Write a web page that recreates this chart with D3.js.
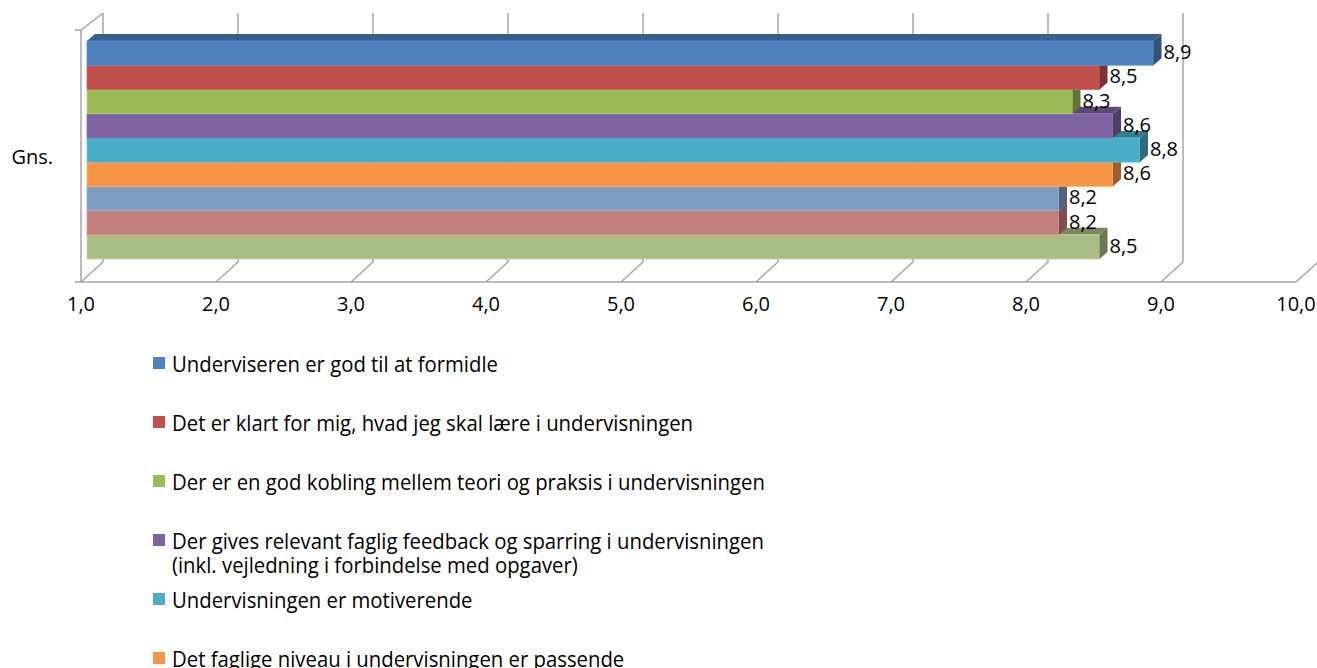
<!DOCTYPE html>
<html>
<head>
<meta charset="utf-8">
<script src="https://cdn.jsdelivr.net/npm/d3@7/dist/d3.min.js"></script>
<style>
  body { margin: 0; background: #fff; }
  svg { display: block; font-family: "Open Sans", sans-serif; }
</style>
</head>
<body>
<div id="chart"></div>
<script>
// one category, nine series
const category = "Gns.";
const seriesValues = [8.9, 8.5, 8.3, 8.6, 8.8, 8.6, 8.2, 8.2, 8.5];
const seriesLabels = ["8,9", "8,5", "8,3", "8,6", "8,8", "8,6", "8,2", "8,2", "8,5"];
const seriesNames = [
    "Underviseren er god til at formidle",
    "Det er klart for mig, hvad jeg skal lære i undervisningen",
    "Der er en god kobling mellem teori og praksis i undervisningen",
    ["Der gives relevant faglig feedback og sparring i undervisningen", "(inkl. vejledning i forbindelse med opgaver)"],
    "Undervisningen er motiverende",
    "Det faglige niveau i undervisningen er passende"
];
const seriesColors = ["#4F81BD", "#C0504D", "#9BBB59", "#8064A2", "#4BACC6", "#F79646", "#809CC2", "#C2807F", "#A9BC85"];
const xTicks = [1, 2, 3, 4, 5, 6, 7, 8, 9, 10];
const xTickLabels = ["1,0", "2,0", "3,0", "4,0", "5,0", "6,0", "7,0", "8,0", "9,0", "10,0"];

const WIDTH = 1317, HEIGHT = 668;
const FLOOR_Y = 282;       // front edge of the floor
const WALL_TOP = 13;       // top of back wall
const DX = 22, DY = -20;   // 3d depth of the plot box
const BAR_OFF = 6;         // bars sit a bit into the box
const BDX = 8, BDY = -7;   // depth of a bar
const GRID = "#A6A6A6";

const svg = d3.select("#chart").append("svg")
    .attr("width", WIDTH)
    .attr("height", HEIGHT);

const x = d3.scaleLinear().domain([1, 10]).range([81, 1296]);
const y = d3.scaleBand().domain(d3.range(seriesValues.length)).range([41, 259]);

// back wall gridlines + floor diagonals
const grid = svg.append("g").attr("stroke", GRID).attr("stroke-width", 1.5).attr("fill", "none");
grid.selectAll("path.g")
    .data(xTicks)
    .enter()
    .append("path")
    .attr("d", t => `M${x(t)},${FLOOR_Y}L${x(t) + DX},${FLOOR_Y + DY}` +
        (t < 10 ? `V${WALL_TOP}` : ""));
// floor front line and left wall
grid.append("path").attr("d", `M75,${FLOOR_Y}H${x(10)}`);
grid.append("path").attr("d", `M75,30H${x(1)}L${x(1) + DX},${WALL_TOP}`);
grid.append("path").attr("d", `M${x(1)},30V${FLOOR_Y}`);

// tick labels
svg.append("g")
    .selectAll("text")
    .data(xTicks)
    .enter()
    .append("text")
    .attr("x", d => x(d))
    .attr("y", FLOOR_Y + 29)
    .attr("text-anchor", "middle")
    .attr("font-size", 20)
    .attr("fill", "#000")
    .text((d, i) => xTickLabels[i]);

svg.append("text")
    .attr("x", 53)
    .attr("y", 164)
    .attr("text-anchor", "end")
    .attr("font-size", 20)
    .text(category);

// bars, drawn bottom to top so the upper bar hides the lower bar's top face
const idx = d3.range(seriesValues.length).reverse();
const bars = svg.append("g")
    .selectAll("g")
    .data(idx)
    .enter()
    .append("g");

bars.each(function (i) {
    const g = d3.select(this);
    const x0 = x(1) + BAR_OFF, x1 = x(seriesValues[i]) + BAR_OFF;
    const y0 = y(i), y1 = y(i) + y.bandwidth();
    const c = d3.color(seriesColors[i]);
    g.append("path")
        .attr("d", `M${x0},${y0}L${x0 + BDX},${y0 + BDY}H${x1 + BDX}L${x1},${y0}Z`)
        .attr("fill", c.darker(0.9));
    g.append("rect")
        .attr("x", x0).attr("y", y0)
        .attr("width", x1 - x0).attr("height", y1 - y0)
        .attr("fill", c)
        .attr("stroke", c.brighter(0.4)).attr("stroke-width", 0.8);
    g.append("path")
        .attr("d", `M${x1},${y0}L${x1 + BDX},${y0 + BDY}V${y1 + BDY}L${x1},${y1}Z`)
        .attr("fill", c.darker(1.3));
});

// data labels
svg.append("g")
    .selectAll("text")
    .data(seriesValues)
    .enter()
    .append("text")
    .attr("x", d => x(d) + BAR_OFF + BDX + 2)
    .attr("y", (d, i) => y(i) + y.bandwidth() / 2 + 6)
    .attr("font-size", 20)
    .text((d, i) => seriesLabels[i]);

// legend
const LEG_X = 153, LEG_Y = 357, LEG_STEP = 59;
const legend = svg.append("g");
const items = legend.selectAll("g")
    .data(seriesNames)
    .enter()
    .append("g")
    .attr("transform", (d, i) => `translate(${LEG_X},${LEG_Y + i * LEG_STEP})`);
items.append("rect")
    .attr("width", 12).attr("height", 12)
    .attr("fill", (d, i) => seriesColors[i]);
const txt = items.append("g")
    .attr("transform", "translate(19,15)");
txt.append("text")
    .attr("font-size", 21)
    .attr("fill", "#000")
    .selectAll("tspan")
    .data(d => Array.isArray(d) ? d : [d])
    .enter()
    .append("tspan")
    .attr("x", 0)
    .attr("dy", (d, j) => j ? 24 : 0)
    .text(d => d);

// the reference font is narrow: squeeze legend text to match
const w0 = txt.node().getBBox().width;
const sx = 326 / w0;
txt.attr("transform", `translate(19,15) scale(${sx},1)`);
</script>
</body>
</html>
